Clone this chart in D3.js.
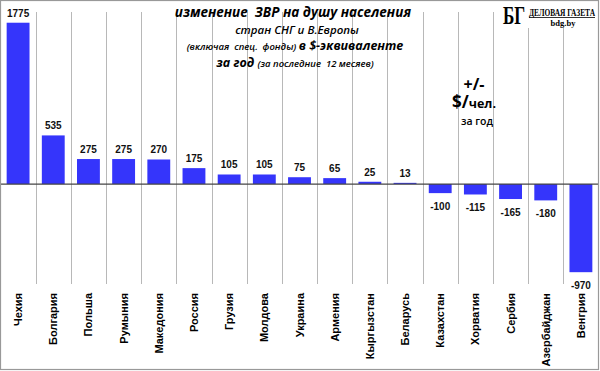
<!DOCTYPE html>
<html>
<head>
<meta charset="utf-8">
<script src="https://cdn.jsdelivr.net/npm/d3@7"></script>
<style>
  body { margin: 0; background: #fff; }
  svg { display: block; }
</style>
</head>
<body>
<svg id="chart" width="600" height="371"></svg>
<script>
// countries and change of reserves per capita, $ per year
const countries = ["Чехия", "Болгария", "Польша", "Румыния", "Македония", "Россия", "Грузия",
  "Молдова", "Украина", "Армения", "Кыргызстан", "Беларусь", "Казахстан", "Хорватия",
  "Сербия", "Азербайджан", "Венгрия"]
const values = [1775, 535, 275, 275, 270, 175, 105, 105, 75, 65, 25, 13, -100, -115, -165, -180, -970]

const width = 600, height = 371
const plot = { left: 0.5, right: 598.5, top: 12, bottom: 284 }
const barColor = "#3535fb"

const svg = d3.select("#chart")

let xScale = d3.scaleBand()
  .domain(countries)
  .range([plot.left, plot.right])
  .padding(0)

let yScale = d3.scaleLinear()
  .domain([-1100, 1893])
  .range([plot.bottom, plot.top])

const bw = xScale.bandwidth()
const barW = bw * 0.65

// vertical grid lines between categories
svg.append("g")
  .selectAll("line")
  .data(countries.slice(1))
  .enter()
  .append("line")
  .attr("x1", d => Math.round(xScale(d)) + 0.5)
  .attr("x2", d => Math.round(xScale(d)) + 0.5)
  .attr("y1", plot.top)
  .attr("y2", plot.bottom)
  .attr("stroke", "#b8b8b8")
  .attr("stroke-width", 1)

// bars
svg.append("g")
  .selectAll("rect")
  .data(values)
  .enter()
  .append("rect")
  .attr("x", (d, i) => xScale(countries[i]) + (bw - barW) / 2)
  .attr("width", barW)
  .attr("y", d => yScale(Math.max(0, d)))
  .attr("height", d => Math.abs(yScale(d) - yScale(0)))
  .attr("fill", barColor)

// zero line
svg.append("line")
  .attr("x1", 0)
  .attr("x2", plot.right)
  .attr("y1", yScale(0))
  .attr("y2", yScale(0))
  .attr("stroke", "#444")
  .attr("stroke-width", 1.3)

// value labels
svg.append("g")
  .selectAll("text")
  .data(values)
  .enter()
  .append("text")
  .attr("x", (d, i) => xScale(countries[i]) + bw / 2)
  .attr("y", d => d >= 0 ? yScale(d) - 6 : yScale(d) + 17)
  .attr("text-anchor", "middle")
  .attr("font-family", "Liberation Sans, Arial, sans-serif")
  .attr("font-weight", "bold")
  .attr("font-size", "10px")
  .attr("fill", "#111")
  .text(d => d)

// category labels, rotated
svg.append("g")
  .selectAll("text")
  .data(countries)
  .enter()
  .append("text")
  .attr("transform", d => "translate(" + (xScale(d) + bw / 2 + 4) + "," + 293 + ") rotate(-90)")
  .attr("text-anchor", "end")
  .attr("font-family", "Liberation Sans, Arial, sans-serif")
  .attr("font-weight", "bold")
  .attr("font-size", "11px")
  .attr("fill", "#000")
  .text(d => d)

// title block
const titleFont = "Open Sans, sans-serif"
svg.append("text")
  .attr("x", 293).attr("y", 17)
  .attr("text-anchor", "middle")
  .attr("font-family", titleFont)
  .attr("font-style", "italic")
  .attr("font-weight", "bold")
  .attr("font-size", "13.5px")
  .style("white-space", "pre")
  .text("изменение  ЗВР на душу населения")

svg.append("text")
  .attr("x", 297).attr("y", 34)
  .attr("text-anchor", "middle")
  .attr("font-family", titleFont)
  .attr("font-style", "italic")
  .attr("font-weight", 600)
  .attr("font-size", "11.5px")
  .text("стран СНГ и В.Европы")

let t3 = svg.append("text")
  .attr("x", 295).attr("y", 50)
  .attr("text-anchor", "middle")
  .attr("font-family", titleFont)
  .attr("font-style", "italic")
  .style("white-space", "pre")
t3.append("tspan").attr("font-size", "9.5px").attr("font-weight", 600).text("(включая  спец.  фонды) ")
t3.append("tspan").attr("font-size", "12.5px").attr("font-weight", "bold").text("в $-эквиваленте")

let t4 = svg.append("text")
  .attr("x", 295).attr("y", 67)
  .attr("text-anchor", "middle")
  .attr("font-family", titleFont)
  .attr("font-style", "italic")
  .style("white-space", "pre")
t4.append("tspan").attr("font-size", "12.5px").attr("font-weight", "bold").text("за год ")
t4.append("tspan").attr("font-size", "9.5px").attr("font-weight", 600).text("(за последние  12 месяев)")

// unit note
const noteFont = "Open Sans, sans-serif"
svg.append("text")
  .attr("x", 474).attr("y", 90)
  .attr("text-anchor", "middle")
  .attr("font-family", noteFont)
  .attr("font-weight", "bold")
  .attr("font-size", "16px")
  .text("+/-")
let unit = svg.append("text")
  .attr("x", 474).attr("y", 108)
  .attr("text-anchor", "middle")
  .attr("font-family", noteFont)
  .attr("font-weight", "bold")
unit.append("tspan").attr("font-size", "17px").text("$/")
unit.append("tspan").attr("font-size", "12.5px").text("чел.")
svg.append("text")
  .attr("x", 477).attr("y", 125)
  .attr("text-anchor", "middle")
  .attr("font-family", noteFont)
  .attr("font-weight", 600)
  .attr("font-size", "10.5px")
  .text("за год")

// logo
const logo = svg.append("g")
logo.append("rect")
  .attr("x", 502).attr("y", 1).attr("width", 97).attr("height", 27)
  .attr("fill", "#fff")
logo.append("text")
  .attr("transform", "translate(503,24) scale(0.66,1)")
  .attr("font-family", "Liberation Serif, serif")
  .attr("font-weight", "bold")
  .attr("font-size", "26px")
  .text("БГ")
logo.append("text")
  .attr("transform", "translate(529,16) scale(1,1.35)")
  .attr("font-family", "Liberation Serif, serif")
  .attr("font-weight", "bold")
  .attr("font-size", "7.4px")
  .attr("textLength", 66)
  .attr("lengthAdjust", "spacingAndGlyphs")
  .text("ДЕЛОВАЯ ГАЗЕТА")
logo.append("line")
  .attr("x1", 529).attr("x2", 595)
  .attr("y1", 17.5).attr("y2", 17.5)
  .attr("stroke", "#000").attr("stroke-width", 0.8)
logo.append("text")
  .attr("x", 563).attr("y", 26)
  .attr("text-anchor", "middle")
  .attr("font-family", "Liberation Serif, serif")
  .attr("font-weight", "bold")
  .attr("font-size", "8.5px")
  .text("bdg.by")

// outer frame
svg.append("rect")
  .attr("x", 0.5).attr("y", 0.5)
  .attr("width", 598).attr("height", 369)
  .attr("fill", "none")
  .attr("stroke", "#999")
  .attr("stroke-width", 1.2)
</script>
</body>
</html>
